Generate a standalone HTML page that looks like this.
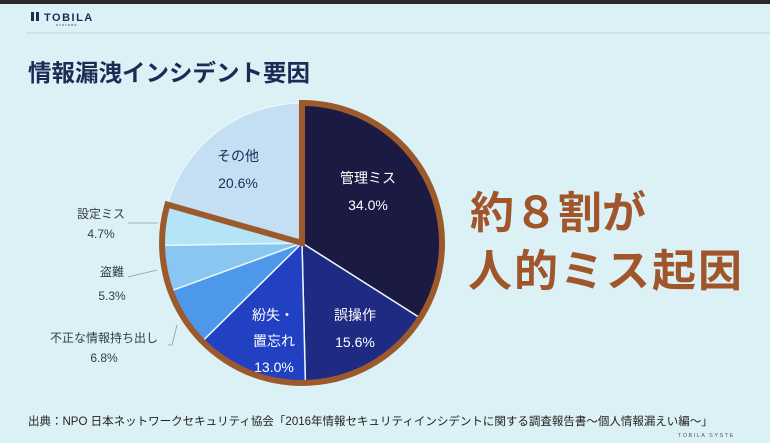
<!DOCTYPE html>
<html><head><meta charset="utf-8"><style>
body{margin:0;width:770px;height:443px;overflow:hidden;background:#dff2f5;font-family:"Liberation Sans","Noto Sans CJK JP",sans-serif;}
</style></head><body>
<svg width="770" height="443" viewBox="0 0 770 443" xmlns="http://www.w3.org/2000/svg" style="position:absolute;left:0;top:0">
<rect width="770" height="443" fill="#dcf1f5"/>
<rect width="770" height="4" fill="#2a2a2a"/>
<rect x="31" y="12" width="3" height="9" fill="#1c2a55"/><rect x="36" y="12" width="3" height="9" fill="#1c2a55"/>
<text x="44" y="21" font-size="11" font-weight="bold" fill="#1c2a55" letter-spacing="1.5">TOBILA</text>
<text x="56" y="26" font-size="3" fill="#1c2a55" letter-spacing="1">SYSTEMS</text>
<line x1="26" y1="33" x2="770" y2="33" stroke="#b8d6e2" stroke-width="1"/>
<text x="28" y="81" font-size="23.5" font-weight="bold" fill="#1c2a55" font-family="Liberation Sans,Noto Sans CJK JP,sans-serif">情報漏洩インシデント要因</text>
<g stroke="#e8f6fa" stroke-width="1.5">
<path d="M302,243 L302,103 A140,140 0 0,1 420.2,318 Z" fill="#1b1a42"/>
<path d="M302,243 L420.2,318 A140,140 0 0,1 305.4,383 Z" fill="#1f2a82"/>
<path d="M302,243 L305.4,383 A140,140 0 0,1 202.3,341.3 Z" fill="#2140c2"/>
<path d="M302,243 L202.3,341.3 A140,140 0 0,1 170.5,291.1 Z" fill="#4d98ea"/>
<path d="M302,243 L170.5,291.1 A140,140 0 0,1 162,245.4 Z" fill="#8ac6f2"/>
<path d="M302,243 L162,245.4 A140,140 0 0,1 167.4,204.6 Z" fill="#b4e4f8"/>
<path d="M302,243 L167.4,204.6 A140,140 0 0,1 302,103 Z" fill="#c4def4"/>
</g>
<path d="M302,243 L302,103 A140,140 0 1,1 167.4,204.6 Z" fill="none" stroke="#9c5a2c" stroke-width="6" stroke-linejoin="miter"/>
<g font-size="14" fill="#1c2a55" text-anchor="middle">
<text x="238" y="161">その他</text><text x="238" y="188">20.6%</text>
</g>
<g font-size="14" fill="#ffffff" text-anchor="middle">
<text x="368" y="183">管理ミス</text><text x="368" y="210">34.0%</text>
<text x="355" y="320">誤操作</text><text x="355" y="347">15.6%</text>
<text x="273" y="320">紛失・</text><text x="274" y="346">置忘れ</text><text x="274" y="372">13.0%</text>
</g>
<g font-size="12" fill="#333b4a" text-anchor="middle">
<text x="101" y="218">設定ミス</text><text x="101" y="238">4.7%</text>
<text x="112" y="276">盗難</text><text x="112" y="300">5.3%</text>
<text x="104" y="342">不正な情報持ち出し</text><text x="104" y="362">6.8%</text>
</g>
<g stroke="#8a9aa6" stroke-width="0.8" fill="none">
<polyline points="128,223 158,223"/>
<polyline points="128,277 157,270"/>
<polyline points="168,345 172,345 177,325"/>
</g>
<g font-size="44" font-weight="bold" fill="#a0552a" font-family="Liberation Sans,Noto Sans CJK JP,sans-serif">
<text x="470" y="228">約８割が</text>
<text x="468" y="286" letter-spacing="2">人的ミス起因</text>
</g>
<text x="28" y="425" font-size="11.5" fill="#222">出典：NPO 日本ネットワークセキュリティ協会「2016年情報セキュリティインシデントに関する調査報告書〜個人情報漏えい編〜」</text>
<text x="678" y="437" font-size="5.5" fill="#556" letter-spacing="1.5">TOBILA SYSTE</text>
</svg>
</body></html>
